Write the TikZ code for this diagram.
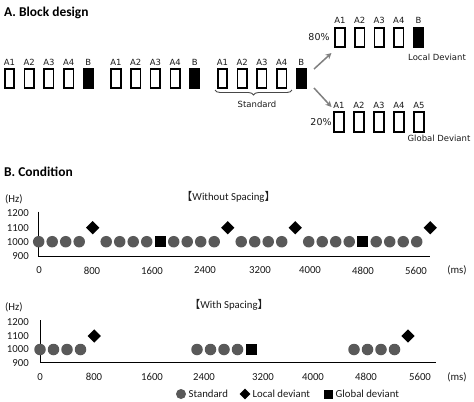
\documentclass[tikz,border=0pt]{standalone}
\usepackage{fontspec}
\setmainfont{Carlito}
\newfontfamily\dvfont{DejaVu Sans}
\newfontfamily\cjkfont{Noto Sans CJK SC}
\usetikzlibrary{arrows.meta,decorations.pathreplacing,shapes.geometric}
\definecolor{stdgray}{HTML}{595959}
\definecolor{txtgray}{HTML}{1A1A1A}
\begin{document}
\begin{tikzpicture}[x=1bp,y=-1bp,
  wbox/.style={rectangle,draw=black,line width=1.6bp,fill=white,minimum width=9.5bp,minimum height=19.5bp,inner sep=0pt},
  bbox/.style={wbox,fill=black},
  lab/.style={font=\dvfont\fontsize{8.5}{9}\selectfont,inner sep=0pt,text=txtgray},
  pct/.style={font=\dvfont\fontsize{9.5}{10}\selectfont,inner sep=0pt,text=txtgray},
  head/.style={font=\bfseries\fontsize{13.5}{14}\selectfont,inner sep=0pt,anchor=west},
  ptxt/.style={font=\fontsize{10.8}{11}\selectfont,inner sep=0pt,text=txtgray},
  ytick/.style={ptxt,anchor=east},
  std/.style={circle,fill=stdgray,minimum size=11.5bp,inner sep=0pt},
  loc/.style={diamond,fill=black,minimum width=13.5bp,minimum height=13.5bp,inner sep=0pt},
  glob/.style={rectangle,fill=black,minimum size=11bp,inner sep=0pt},
  axis/.style={draw=black,line width=1bp},
  garrow/.style={draw=gray,line width=1.5bp,-{Stealth[length=6bp,width=6bp]}}
]
\useasboundingbox[fill=white] (0,0) rectangle (474,401);

% ---------- A. Block design ----------
\node[head] (tA) at (4,12.5) {A. Block design};

\foreach \g/\gx in {1/9.5,2/116,3/222.5}{
  \foreach \i in {1,2,3,4}{
    \node[wbox] (m\g a\i) at ({\gx+(\i-1)*19.7},78.5) {};
    \node[lab] (m\g l\i) at ({\gx+(\i-1)*19.7},62) {A\i};
  }
  \node[bbox] (m\g b) at ({\gx+4*19.7},78.5) {};
  \node[lab] (m\g lb) at ({\gx+4*19.7},62) {B};
}

% brace under third group
\draw[draw=txtgray!80,line width=0.9bp,decorate,decoration={brace,mirror,amplitude=5bp}]
  (215,90) -- (292,90);
\node[lab] (stdl) at (257,104) {Standard};

% arrows
\coordinate (aus) at (314,69);
\coordinate (aue) at (331.5,53);
\coordinate (als) at (314,88);
\coordinate (ale) at (331.5,107);
\draw[garrow] (aus) -- (aue);
\draw[garrow] (als) -- (ale);

% top row (local deviant)
\node[pct] (p80) at (319,37) {80\%};
\foreach \i in {1,2,3,4}{
  \node[wbox] (t\i) at ({340+(\i-1)*19.6},37.5) {};
  \node[lab] (tl\i) at ({340+(\i-1)*19.6},20) {A\i};
}
\node[bbox] (tb) at (418.5,37.5) {};
\node[lab] (tlb) at (418.5,20) {B};
\node[lab] (locd) at (437,57) {Local Deviant};

% bottom row (global deviant)
\node[pct] (p20) at (321,122) {20\%};
\foreach \i in {1,2,3,4,5}{
  \node[wbox] (b\i) at ({339+(\i-1)*20},122) {};
  \node[lab] (bl\i) at ({339+(\i-1)*20},105) {A\i};
}
\node[lab] (globd) at (439,138) {Global Deviant};

% ---------- B. Condition ----------
\node[head] (tB) at (4,172) {B. Condition};

% ----- plot 1 -----
\node[ptxt] (t1) at (228.5,197) {{\cjkfont 【}Without Spacing{\cjkfont 】}};
\node[ptxt,anchor=west] (hz1) at (5,199) {(Hz)};
\node[ytick] (y1a) at (29,213.3) {1200};
\node[ytick] (y1b) at (29,227.7) {1100};
\node[ytick] (y1c) at (29,241.7) {1000};
\node[ytick] (y1d) at (29,256) {900};
\coordinate (ya1) at (38.7,211.5);
\coordinate (o1) at (38.7,256.7);
\coordinate (xe1) at (430,256.7);
\draw[axis] (ya1) -- (o1) -- (xe1);
\foreach \v/\px in {0/39,800/92,1600/152,2400/205,3200/260,4000/310,4800/363,5600/416}{
  \node[ptxt] (x1\v) at (\px,270.5) {\v};
}
\node[ptxt] (ms1) at (457,270.5) {(ms)};
\foreach \b/\dev/\dy in {0/loc/227.7,1/glob/241.7,2/loc/227.7,3/loc/227.7,4/glob/241.7,5/loc/227.7}{
  \foreach \j in {0,1,2,3}{
    \node[std] (pa\b c\j) at ({38.7+0.0675*(\b*1000+\j*200)},241.7) {};
  }
  \node[\dev] (pa\b d) at ({38.7+0.0675*(\b*1000+800)},\dy) {};
}

% ----- plot 2 -----
\node[ptxt] (t2) at (229,305) {{\cjkfont 【}With Spacing{\cjkfont 】}};
\node[ptxt,anchor=west] (hz2) at (5,307) {(Hz)};
\node[ytick] (y2a) at (29,322) {1200};
\node[ytick] (y2b) at (29,336) {1100};
\node[ytick] (y2c) at (29,349.5) {1000};
\node[ytick] (y2d) at (29,363) {900};
\coordinate (ya2) at (40,320);
\coordinate (o2) at (40,362.7);
\coordinate (xe2) at (436,362.7);
\draw[axis] (ya2) -- (o2) -- (xe2);
\foreach \v/\px in {0/40,800/94,1600/152,2400/204,3200/263,4000/313,4800/366,5600/420}{
  \node[ptxt] (x2\v) at (\px,377) {\v};
}
\node[ptxt] (ms2) at (457,377) {(ms)};
\foreach \g/\gx in {1/40,2/197,3/354}{
  \foreach \j in {0,1,2,3}{
    \node[std] (pb\g c\j) at ({\gx+\j*13.5},349.5) {};
  }
}
\node[loc] (pb1d) at (94.3,336) {};
\node[glob] (pb2d) at (251,349.5) {};
\node[loc] (pb3d) at (408,336) {};

% legend
\node[std,minimum size=10bp] (lgc) at (181,394) {};
\node[ptxt,anchor=west] (lgct) at (188.5,394) {Standard};
\node[loc,minimum width=11bp,minimum height=11bp] (lgd) at (245,394) {};
\node[ptxt,anchor=west] (lgdt) at (252.5,394) {Local deviant};
\node[glob,minimum size=9bp] (lgs) at (328,394) {};
\node[ptxt,anchor=west] (lgst) at (335.5,394) {Global deviant};
\end{tikzpicture}
\end{document}
